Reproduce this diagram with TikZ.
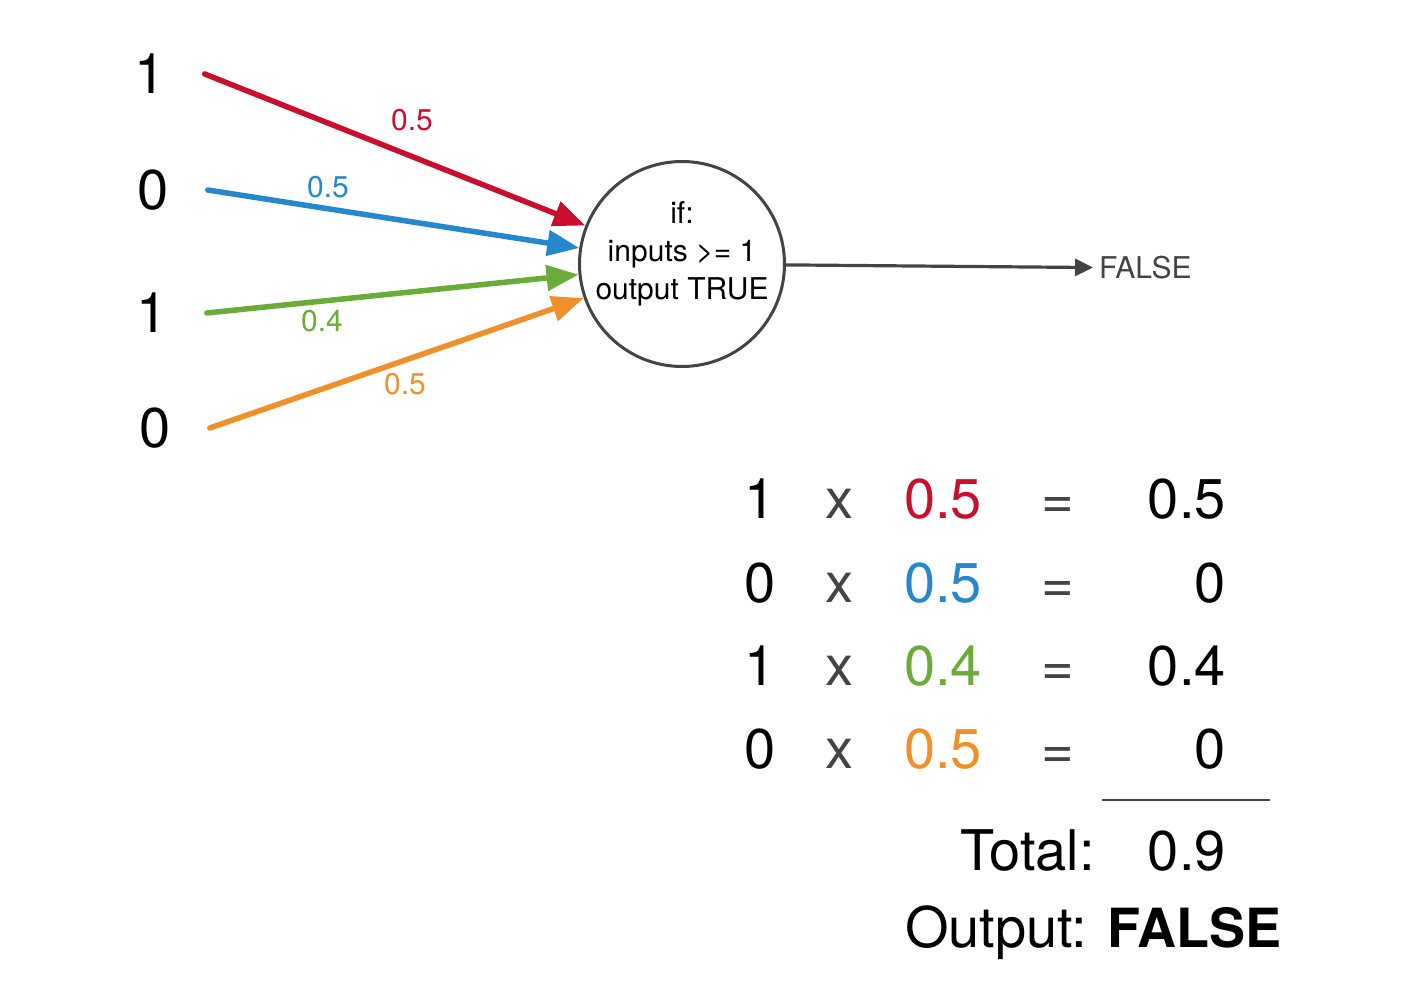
\documentclass[tikz,border=0pt]{standalone}
\usepackage{fontspec}
\setmainfont{TeX Gyre Heros}
\usepackage{xcolor}
\definecolor{rouge}{HTML}{C8102E}
\definecolor{bleu}{HTML}{2587CC}
\definecolor{vert}{HTML}{6AAB3A}
\definecolor{orangec}{HTML}{F0902A}
\definecolor{grisfonce}{HTML}{444444}
\usepackage{tikz}
\usetikzlibrary{arrows.meta}

\begin{document}
\begin{tikzpicture}[x=1pt,y=-1pt,
  entree/.style={inner xsep=39pt,inner ysep=0pt,font=\fontsize{56}{60}\selectfont},
  poids/.style={inner sep=0pt,font=\fontsize{30}{36}\selectfont},
  neurone/.style={circle,draw=grisfonce,line width=3pt,minimum size=205pt,inner sep=0pt},
  fleche/.style={line width=5.5pt,line cap=round,-{Triangle[length=32pt,width=25pt]}},
  calcul/.style={anchor=base,inner sep=0pt,font=\fontsize{56}{60}\selectfont}
]
\useasboundingbox (0,0) rectangle (1409,1006);
% entrees et poids
\node[entree] (in1) at (150,74) {1};
\node[entree] (in2) at (153,190) {0};
\node[entree] (in3) at (152,313) {1};
\node[entree] (in4) at (155,428) {0};
\node[poids,text=rouge] (w1) at (412,120) {0.5};
\node[poids,text=bleu] (w2) at (328,187) {0.5};
\node[poids,text=vert] (w3) at (322,321) {0.4};
\node[poids,text=orangec] (w4) at (405,384) {0.5};
% neurone
\node[neurone,label={[align=center,font=\fontsize{30}{38}\selectfont,yshift=10pt]center:{if:\\inputs >= 1\\output TRUE}}] (n) at (682,264) {};
\node[poids,text=grisfonce,anchor=west,inner sep=6pt] (faux) at (1093,268) {FALSE};
\draw[fleche,rouge] (in1.east)--(n);
\draw[fleche,bleu] (in2.east)--(n);
\draw[fleche,vert] (in3.east)--(n);
\draw[fleche,orangec] (in4.east)--(n);
\draw[grisfonce,line width=3.2pt,-{Triangle[length=18pt,width=17pt]}] (n)--(faux);
% calcul
\node[calcul] (a1) at (760,518) {1};
\node[calcul,text=grisfonce] (x1) at (839,518) {x};
\node[calcul,text=rouge] (p1) at (943,518) {0.5};
\node[calcul,text=grisfonce] (e1) at (1058,518) {=};
\node[calcul,anchor=base east] (r1) at (1226,518) {0.5};
\node[calcul] (a2) at (760,602) {0};
\node[calcul,text=grisfonce] (x2) at (839,602) {x};
\node[calcul,text=bleu] (p2) at (943,602) {0.5};
\node[calcul,text=grisfonce] (e2) at (1058,602) {=};
\node[calcul,anchor=base east] (r2) at (1226,602) {0};
\node[calcul] (a3) at (760,685) {1};
\node[calcul,text=grisfonce] (x3) at (839,685) {x};
\node[calcul,text=vert] (p3) at (943,685) {0.4};
\node[calcul,text=grisfonce] (e3) at (1058,685) {=};
\node[calcul,anchor=base east] (r3) at (1226,685) {0.4};
\node[calcul] (a4) at (760,768) {0};
\node[calcul,text=grisfonce] (x4) at (839,768) {x};
\node[calcul,text=orangec] (p4) at (943,768) {0.5};
\node[calcul,text=grisfonce] (e4) at (1058,768) {=};
\node[calcul,anchor=base east] (r4) at (1226,768) {0};
\draw[grisfonce,line width=2pt] (1102,800)--(1270,800);
\node[calcul,anchor=base east] (tot) at (1095,870) {Total:};
\node[calcul,anchor=base east] (somme) at (1226,870) {0.9};
\node[calcul,anchor=base west] (sortie) at (905,947) {Output: {\fontsize{54}{60}\selectfont\bfseries FALSE}};
\end{tikzpicture}
\end{document}
